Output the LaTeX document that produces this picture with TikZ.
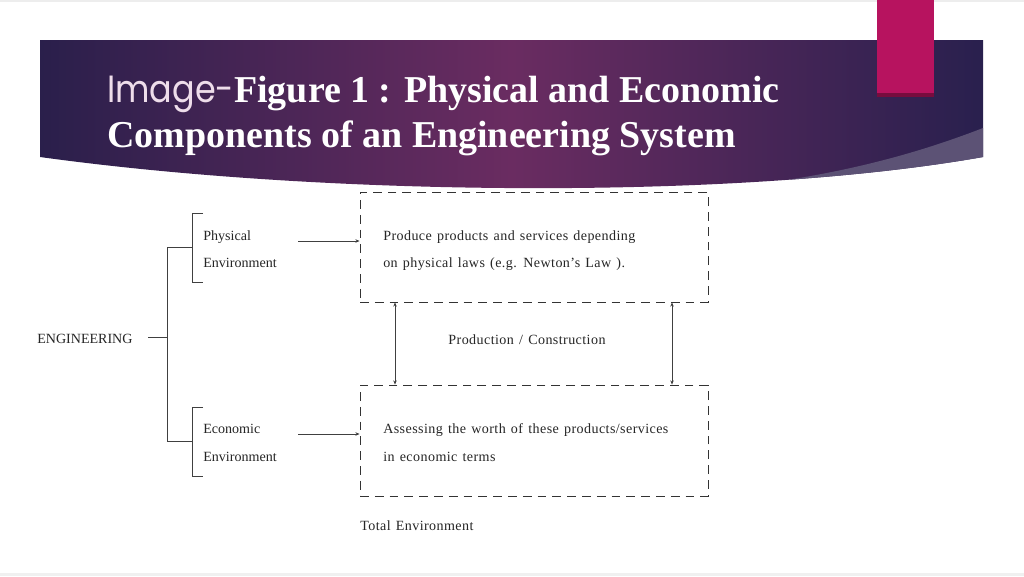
\documentclass[tikz,border=0pt]{standalone}
\usepackage{fontspec}
\setmainfont{Liberation Serif}
\newfontfamily\imgfont[FakeStretch=0.88]{Poppins}
\newfontfamily\boxfont[LetterSpace=3]{Liberation Serif}
\newcommand\boxwords{\fontsize{10}{12}\boxfont\spaceskip=0.37em plus 0.1em\relax}
\usetikzlibrary{arrows.meta,positioning}

\definecolor{bannerleft}{HTML}{2A1F4B}
\definecolor{bannermid}{HTML}{6A2C61}
\definecolor{bannerright}{HTML}{29204E}
\definecolor{bannerwedge}{HTML}{5C5275}
\definecolor{tabpink}{HTML}{B7135F}
\definecolor{titlepink}{HTML}{EEDDEA}

\begin{document}
\begin{tikzpicture}[x=0.25mm, y=-0.25mm,
  every node/.style={inner sep=0pt, text=black!85,
                     font=\fontsize{10}{12}\selectfont},
  lbl/.style={anchor=base west},
  boxtext/.style={font=\boxwords},
  titletext/.style={anchor=base west, text=white,
                    font=\fontsize{27}{32}\selectfont\bfseries},
  link/.style={draw=black!75, line width=0.6pt},
  arr/.style={link, -{Stealth[length=3pt,width=2.5pt]}},
  dbl/.style={link, {Stealth[length=3pt,width=2.5pt]}-{Stealth[length=3pt,width=2.5pt]}},
  dashbox/.style={draw=black!80, line width=0.6pt,
                  dash pattern=on 2.2mm off 1.5mm,
                  minimum width=87mm, inner sep=0pt}]

  % page
  \fill[white] (0,0) rectangle (1024,576);
  \useasboundingbox (0,0) rectangle (1024,576);
  \fill[black!7] (0,0) rectangle (1024,1.5);
  \fill[black!6] (0,573) rectangle (1024,576);

  % banner
  \shade[left color=bannerleft, right color=bannerright, middle color=bannermid]
         ( 40, 40) -- (983, 40) -- (983,157)
      .. controls (740,200) and (330,197) .. ( 40,157) -- cycle;
  \begin{scope}
    \clip ( 40, 40) -- (983, 40) -- (983,157)
      .. controls (740,200) and (330,197) .. ( 40,157) -- cycle;
    \fill[bannerwedge]
           (983,128) .. controls (880,168) and (780,186) .. (640,196)
        -- (1000,200) -- (1000,128) -- cycle;
  \end{scope}
  \fill[tabpink] (877,  0) rectangle (934, 97);
  \fill[tabpink!65!black] (877, 93) rectangle (934, 97);

  \node[titletext] (titleA) at (107,102)
        {{\imgfont\mdseries\color{titlepink}Image-}Figure 1 : Physical and Economic};
  \node[titletext] (titleB) at (107,147) {Components of an Engineering System};

  % tree
  \node[lbl] (eng) at ( 37,343) {ENGINEERING};
  \coordinate (engR)    at (148,337);
  \coordinate (fork)    at (167,337);
  \coordinate (forkTop) at (167,247);
  \coordinate (forkBot) at (167,441);
  \coordinate (physBr)  at (192,247);
  \coordinate (econBr)  at (192,441);
  \draw[link] (engR) -- (fork);
  \draw[link] (forkTop) -- (forkBot);
  \draw[link] (forkTop) -- (physBr);
  \draw[link] (forkBot) -- (econBr);
  \draw[link] (203,213) -- (192,213) -- (192,282) -- (203,282);
  \draw[link] (203,407) -- (192,407) -- (192,476) -- (203,476);

  \node[lbl] (phys)  at (203,240) {Physical};
  \node[lbl] (physE) at (203,267) {Environment};
  \node[lbl] (econ)  at (203,433) {Economic};
  \node[lbl] (econE) at (203,461) {Environment};

  % boxes
  \node[dashbox, minimum height=27.5mm]  (physbox) at (534,247.0) {};
  \node[dashbox, minimum height=27.75mm] (econbox) at (534,440.5) {};

  \node[lbl, boxtext] (physT1) at (383,240) {Produce products and services depending};
  \node[lbl, boxtext] (physT2) at (383,267) {on physical laws (e.g. Newton’s Law ).};
  \node[lbl, boxtext] (econT1) at (383,433) {Assessing the worth of these products/services};
  \node[lbl, boxtext] (econT2) at (383,461) {in economic terms};

  \coordinate (physArr) at (298,241);
  \coordinate (econArr) at (298,434);
  \draw[arr] (physArr) -- (physArr -| physbox.west);
  \draw[arr] (econArr) -- (econArr -| econbox.west);

  \coordinate (prodL) at (395,340);
  \coordinate (prodR) at (672,340);
  \draw[dbl] (prodL |- physbox.south) -- (prodL |- econbox.north);
  \draw[dbl] (prodR |- physbox.south) -- (prodR |- econbox.north);
  \node[boxtext] (prod) at (527,340) {Production / Construction};

  \node[lbl, boxtext] (total) at (360,530) {Total Environment};

\end{tikzpicture}
\end{document}
